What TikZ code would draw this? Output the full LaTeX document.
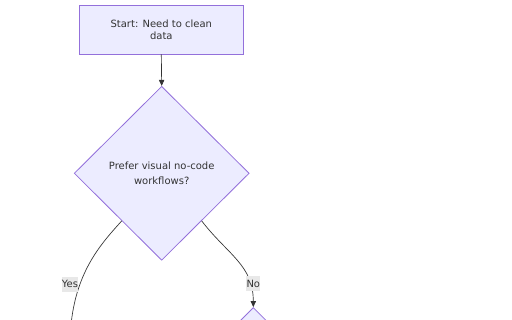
\documentclass[tikz,border=0pt]{standalone}
\usepackage{fontspec}
\setmainfont{DejaVu Sans}
\usetikzlibrary{shapes.geometric,arrows.meta,calc}
\definecolor{nodefill}{HTML}{ECECFF}
\definecolor{nodeline}{HTML}{9370DB}
\definecolor{txt}{HTML}{333333}
\definecolor{edgecol}{HTML}{333333}
\definecolor{lblbg}{HTML}{E8E8E8}
\tikzset{
  boxnode/.style={rectangle,draw=nodeline,fill=nodefill,line width=0.6pt,inner sep=0pt,
    text=txt,align=center,font=\fontsize{7.5}{9}\selectfont},
  decnode/.style={diamond,aspect=1,draw=nodeline,fill=nodefill,line width=0.6pt,inner sep=0pt,
    text=txt,align=center,font=\fontsize{7.5}{11.25}\selectfont},
  edge/.style={draw=edgecol,line width=0.5pt},
  arr/.style={-{Triangle[length=4.5pt,width=4pt]}},
  lbl/.style={fill=lblbg,text=txt,inner xsep=0.3pt,inner ysep=0pt,minimum height=11.25pt,
    font=\fontsize{7.5}{9}\selectfont}
}
\begin{document}
\begin{tikzpicture}[x=0.75pt,y=-0.75pt]
\clip (0,0) rectangle (512,320);
\fill[white] (0,0) rectangle (512,320);
\node[boxnode,minimum width=123pt,minimum height=36.75pt] (start) at (161.3,29.5) {Start: Need to clean\\data};
\node[decnode,minimum width=131.25pt,minimum height=130.5pt] (q1) at (161.7,173.3) {Prefer visual no-code\\workflows?};
\node[decnode,minimum width=127.5pt,minimum height=127.5pt] (q2) at (253.3,392.5) {};
\coordinate (yesend) at (70,340);
\draw[edge,arr] (start.south) -- (q1.north);
\draw[edge] ($(q1.west)!0.545!(q1.south)$) .. controls (100,245) and (72,275) .. (yesend);
\draw[edge,arr] ($(q1.east)!0.545!(q1.south)$) .. controls (228,255) and (253.3,265) .. (q2.north);
\node[lbl] (ylbl) at (70,284.3) {Yes};
\node[lbl] (nlbl) at (253.3,283.5) {No};
\end{tikzpicture}
\end{document}
